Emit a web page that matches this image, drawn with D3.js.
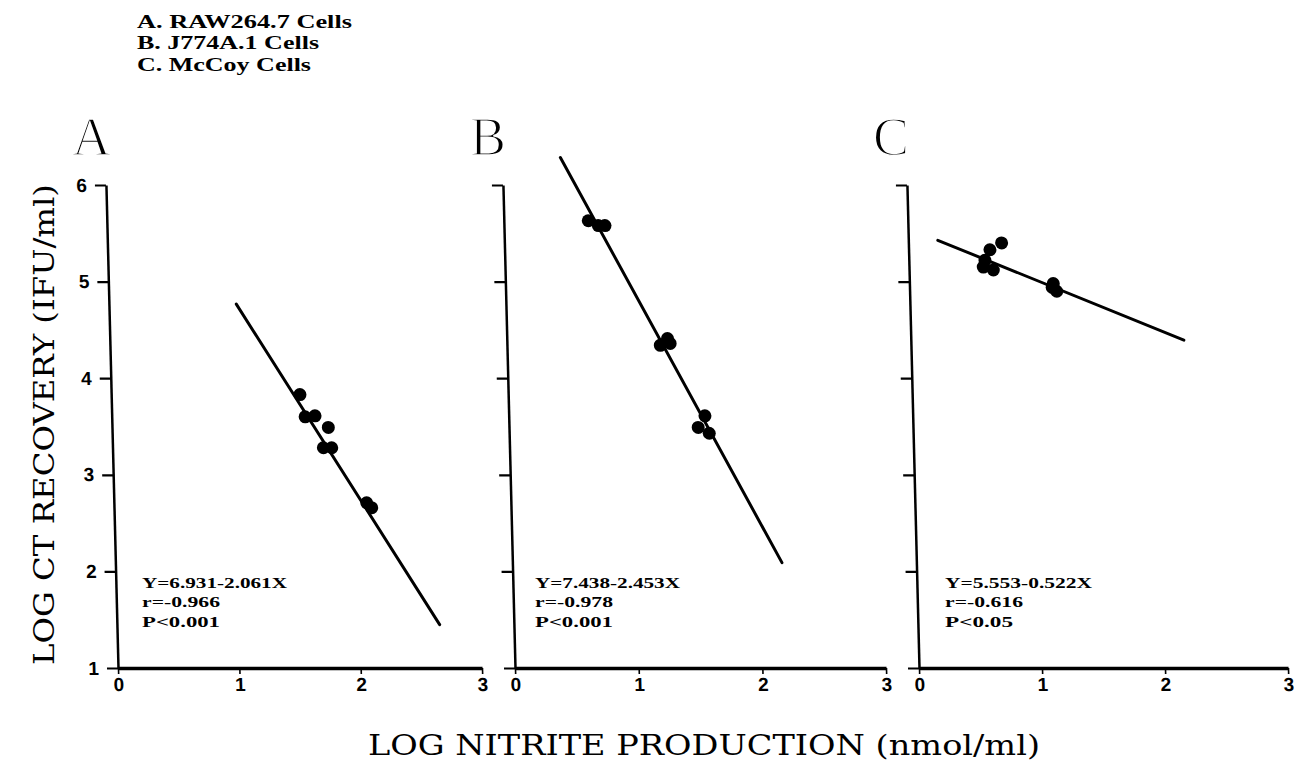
<!DOCTYPE html>
<html>
<head>
<meta charset="utf-8">
<script src="https://cdn.jsdelivr.net/npm/d3@7"></script>
<style>
  html, body { margin: 0; padding: 0; background: #fff; }
  svg { display: block; }
</style>
</head>
<body>
<svg id="chart" width="1295" height="774"></svg>
<script>
// Axis ticks shared by the three panels
const xTicks = [0, 1, 2, 3];
const yTicks = [1, 2, 3, 4, 5, 6];

// Panel letters and cell-line key
const panelLetters = ["A", "B", "C"];
const cellLines = ["A. RAW264.7 Cells", "B. J774A.1 Cells", "C. McCoy Cells"];

// Log nitrite production (x) and log CT recovery (y) per cell line
const rawX = [1.556, 1.594, 1.676, 1.783, 1.738, 1.807, 2.084, 2.124];
const rawY = [3.83, 3.60, 3.61, 3.49, 3.28, 3.28, 2.71, 2.66];

const j774X = [0.683, 0.763, 0.817, 1.240, 1.300, 1.320, 1.587, 1.530, 1.618];
const j774Y = [5.63, 5.58, 5.58, 4.34, 4.41, 4.36, 3.61, 3.49, 3.43];

const mccoyX = [0.758, 0.662, 0.619, 0.604, 0.685, 1.170, 1.196, 1.160];
const mccoyY = [5.40, 5.33, 5.22, 5.15, 5.12, 4.98, 4.90, 4.94];

// Regression fits Y = a + bX, the x-span each fitted line covers, and stats
const intercepts = [6.931, 7.438, 5.553];
const slopes = [-2.061, -2.453, -0.522];
const fitStart = [1.05, 0.47, 0.24];
const fitEnd = [2.66, 2.18, 2.22];
const rLabels = ["r=-0.966", "r=-0.978", "r=-0.616"];
const pLabels = ["P<0.001", "P<0.001", "P<0.05"];

const seriesX = [rawX, j774X, mccoyX];
const seriesY = [rawY, j774Y, mccoyY];

// ---- layout ----
const svg = d3.select("#chart");
const baseY = 668, topY = 185;
const panelRanges = [[118, 482], [515, 886], [919, 1288]];
const letterX = [72, 470, 873];
const eqX = [142, 535, 945];
const eqWidths = [[145, 78, 78], [145, 78, 78], [147, 78, 68]];
const skewDeg = 1.432;   // the plotted frames lean slightly to the left

const y = d3.scaleLinear().domain([1, 6]).range([baseY, topY]);

// Cell-line key
svg.append("g").selectAll("text")
  .data(cellLines)
  .join("text")
  .attr("x", 137)
  .attr("y", (d, i) => [28, 49, 71][i])
  .attr("textLength", (d, i) => [215, 182, 174][i])
  .attr("lengthAdjust", "spacingAndGlyphs")
  .style("font-family", "'Liberation Serif', serif")
  .style("font-weight", "bold")
  .style("font-size", "19px")
  .text(d => d);

panelLetters.forEach((letter, i) => {
  const x = d3.scaleLinear().domain([0, 3]).range(panelRanges[i]);

  // Panel letter
  svg.append("text")
    .attr("x", letterX[i])
    .attr("y", 155)
    .style("font-family", "'Liberation Serif', serif")
    .style("font-size", "54px")
    .attr("fill", "#000")
    .attr("stroke", "#fff")
    .attr("stroke-width", 1.6)
    .text(letter);

  const g = svg.append("g")
    .attr("transform", `translate(0,${baseY}) skewX(${skewDeg}) translate(0,${-baseY})`);

  // y axis
  const yAxis = d3.axisLeft(y)
    .tickValues(yTicks)
    .tickSize(11)
    .tickSizeOuter(0)
    .tickPadding(8)
    .tickFormat(i === 0 ? d3.format("d") : () => "");
  const ya = g.append("g")
    .attr("transform", `translate(${x(0)},0)`)
    .call(yAxis);
  ya.select(".domain").attr("stroke-width", 2.5);
  ya.selectAll(".tick line").attr("stroke-width", 2.2);
  ya.selectAll(".tick text")
    .style("font-family", "'Liberation Sans', Arial, sans-serif")
    .style("font-weight", "bold")
    .style("font-size", "19px");

  // x axis
  const xAxis = d3.axisBottom(x)
    .tickValues(xTicks)
    .tickSize(6)
    .tickSizeOuter(0)
    .tickPadding(4)
    .tickFormat(d3.format("d"));
  const xa = g.append("g")
    .attr("transform", `translate(0,${baseY})`)
    .call(xAxis);
  xa.select(".domain").attr("stroke-width", 3.5);
  xa.selectAll(".tick line").attr("stroke-width", 1.6);
  xa.selectAll(".tick text")
    .style("font-family", "'Liberation Sans', Arial, sans-serif")
    .style("font-weight", "bold")
    .style("font-size", "19px");

  // Fitted regression line
  const a = intercepts[i], b = slopes[i];
  const fit = [fitStart[i], fitEnd[i]].map(v => [v, a + b * v]);
  g.append("path")
    .datum(fit)
    .attr("fill", "none")
    .attr("stroke", "#000")
    .attr("stroke-width", 3)
    .attr("stroke-linecap", "round")
    .attr("d", d3.line().x(d => x(d[0])).y(d => y(d[1])));

  // Data points
  g.append("g").selectAll("circle")
    .data(seriesX[i].map((v, k) => [v, seriesY[i][k]]))
    .join("circle")
    .attr("cx", d => x(d[0]))
    .attr("cy", d => y(d[1]))
    .attr("r", 6.5)
    .attr("fill", "#000");

  // Regression statistics
  const eqText = `Y=${a.toFixed(3)}-${(-b).toFixed(3)}X`;
  const stats = [eqText, rLabels[i], pLabels[i]];
  svg.append("g").selectAll("text")
    .data(stats)
    .join("text")
    .attr("x", eqX[i])
    .attr("y", (d, k) => [588, 607, 627][k])
    .attr("textLength", (d, k) => eqWidths[i][k])
    .attr("lengthAdjust", "spacingAndGlyphs")
    .style("font-family", "'Liberation Serif', serif")
    .style("font-weight", "bold")
    .style("font-size", "15px")
    .text(d => d);
});

// Axis titles
svg.append("text")
  .attr("transform", "translate(54,424.5) rotate(-90)")
  .attr("text-anchor", "middle")
  .attr("textLength", 481)
  .attr("lengthAdjust", "spacingAndGlyphs")
  .style("font-family", "'DejaVu Serif', serif")
  .style("font-size", "27px")
  .text("LOG CT RECOVERY (IFU/ml)");

svg.append("text")
  .attr("x", 704)
  .attr("y", 755)
  .attr("text-anchor", "middle")
  .attr("textLength", 672)
  .attr("lengthAdjust", "spacingAndGlyphs")
  .style("font-family", "'DejaVu Serif', serif")
  .style("font-size", "27px")
  .text("LOG NITRITE PRODUCTION (nmol/ml)");
</script>
</body>
</html>
